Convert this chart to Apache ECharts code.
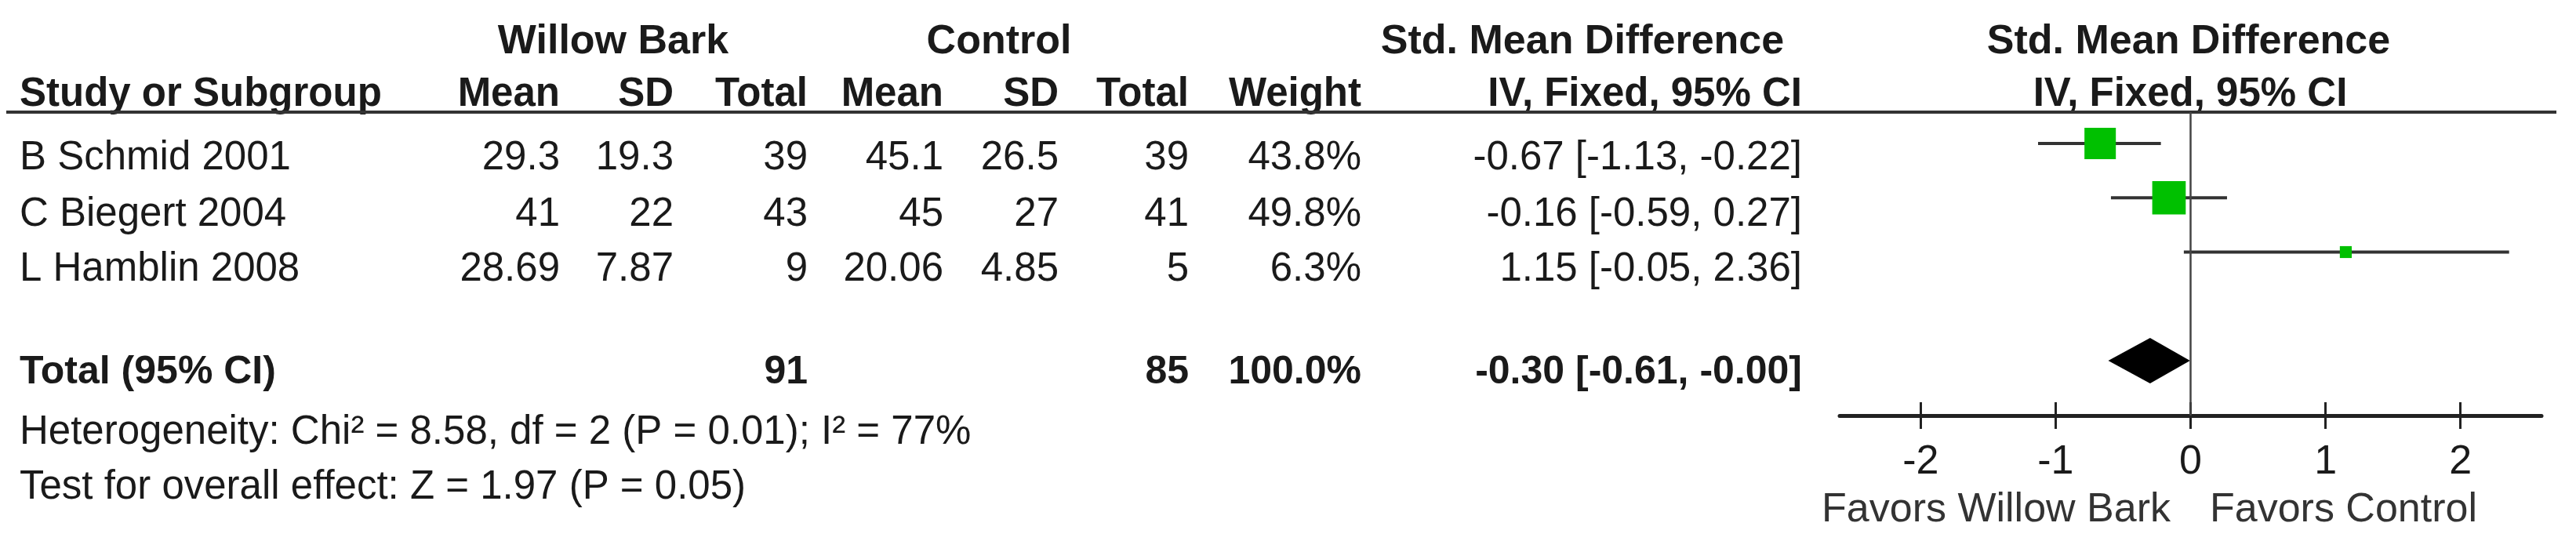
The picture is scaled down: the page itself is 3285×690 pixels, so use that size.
<!DOCTYPE html>
<html>
<head>
<meta charset="utf-8">
<script src="https://cdn.jsdelivr.net/npm/echarts@6/dist/echarts.min.js"></script>
<style>
  html, body { margin: 0; padding: 0; background: #fff; }
  #chart { width: 3285px; height: 690px; }
</style>
</head>
<body>
<div id="chart"></div>
<script>
// ── данные ────────────────────────────────────────────────────────────────
const studies = ['B Schmid 2001', 'C Biegert 2004', 'L Hamblin 2008'];
const wbMean  = [29.3, 41, 28.69];
const wbSD    = [19.3, 22, 7.87];
const wbTotal = [39, 43, 9];
const ctMean  = [45.1, 45, 20.06];
const ctSD    = [26.5, 27, 4.85];
const ctTotal = [39, 41, 5];
const weight  = [43.8, 49.8, 6.3];
const smd     = [-0.67, -0.16, 1.15];
const ciLow   = [-1.13, -0.59, -0.05];
const ciHigh  = [-0.22, 0.27, 2.36];

const totalWb     = 91;
const totalCt     = 85;
const totalWeight = 100.0;
const totalSmd    = -0.30;
const totalLow    = -0.61;
const totalHigh   = -0.004; // печатается как -0.00

const heterogeneity = 'Heterogeneity: Chi² = 8.58, df = 2 (P = 0.01); I² = 77%';
const overallEffect = 'Test for overall effect: Z = 1.97 (P = 0.05)';
const axisTicks     = [-2, -1, 0, 1, 2];
const favorsLeft    = 'Favors Willow Bark';
const favorsRight   = 'Favors Control';

// ── раскладка ─────────────────────────────────────────────────────────────
const FONT = "'Liberation Sans', Arial, sans-serif";
const INK = '#1a1a1a';
const COL = { study: 25, wbMean: 714, wbSD: 859, wbTotal: 1030, ctMean: 1203, ctSD: 1350, ctTotal: 1516, weight: 1736, ci: 2298 };
const ROW_BASE = [218, 290, 360];
const TOTAL_ROW = 4; // строка итога на оси графика

const fmt2 = v => v.toFixed(2);
const ciText = (m, lo, hi) => fmt2(m) + ' [' + fmt2(lo) + ', ' + fmt2(hi) + ']';

function txt(x, base, text, size, align, bold, color) {
  return {
    type: 'text', x: x, y: base - 0.31 * size, silent: true,
    style: {
      text: text,
      font: (bold ? 'bold ' : '') + size + 'px ' + FONT,
      fill: color || INK,
      align: align, verticalAlign: 'middle',
      textAlign: align, textVerticalAlign: 'middle'
    }
  };
}

const g = [];
// шапка
g.push(txt(782, 70, 'Willow Bark', 52, 'center', true));
g.push(txt(1274, 70, 'Control', 52, 'center', true));
g.push(txt(2018, 70, 'Std. Mean Difference', 52, 'center', true));
g.push(txt(2791, 70, 'Std. Mean Difference', 52, 'center', true));
g.push(txt(COL.study, 137, 'Study or Subgroup', 51, 'left', true));
g.push(txt(COL.wbMean, 137, 'Mean', 51, 'right', true));
g.push(txt(COL.wbSD, 137, 'SD', 51, 'right', true));
g.push(txt(COL.wbTotal, 137, 'Total', 51, 'right', true));
g.push(txt(COL.ctMean, 137, 'Mean', 51, 'right', true));
g.push(txt(COL.ctSD, 137, 'SD', 51, 'right', true));
g.push(txt(COL.ctTotal, 137, 'Total', 51, 'right', true));
g.push(txt(COL.weight, 137, 'Weight', 51, 'right', true));
g.push(txt(COL.ci, 137, 'IV, Fixed, 95% CI', 51, 'right', true));
g.push(txt(2793, 137, 'IV, Fixed, 95% CI', 51, 'center', true));
g.push({ type: 'line', silent: true, shape: { x1: 8, y1: 143, x2: 3260, y2: 143 }, style: { stroke: '#333', lineWidth: 4 } });

// строки исследований
studies.forEach(function (s, i) {
  const b = ROW_BASE[i];
  g.push(txt(COL.study, b, s, 51, 'left'));
  g.push(txt(COL.wbMean, b, String(wbMean[i]), 51, 'right'));
  g.push(txt(COL.wbSD, b, String(wbSD[i]), 51, 'right'));
  g.push(txt(COL.wbTotal, b, String(wbTotal[i]), 51, 'right'));
  g.push(txt(COL.ctMean, b, String(ctMean[i]), 51, 'right'));
  g.push(txt(COL.ctSD, b, String(ctSD[i]), 51, 'right'));
  g.push(txt(COL.ctTotal, b, String(ctTotal[i]), 51, 'right'));
  g.push(txt(COL.weight, b, weight[i].toFixed(1) + '%', 51, 'right'));
  g.push(txt(COL.ci, b, ciText(smd[i], ciLow[i], ciHigh[i]), 51, 'right'));
});

// итог
g.push(txt(COL.study, 491, 'Total (95% CI)', 50, 'left', true));
g.push(txt(COL.wbTotal, 491, String(totalWb), 50, 'right', true));
g.push(txt(COL.ctTotal, 491, String(totalCt), 50, 'right', true));
g.push(txt(COL.weight, 491, totalWeight.toFixed(1) + '%', 50, 'right', true));
g.push(txt(COL.ci, 491, ciText(totalSmd, totalLow, totalHigh), 50, 'right', true));
g.push(txt(COL.study, 568, heterogeneity, 51, 'left'));
g.push(txt(COL.study, 638, overallEffect, 51, 'left'));

// подписи под осью
g.push(txt(2768, 667, favorsLeft, 52, 'right', false, '#333'));
g.push(txt(2818, 667, favorsRight, 52, 'left', false, '#333'));

// ── график ────────────────────────────────────────────────────────────────
const chart = echarts.init(document.getElementById('chart'));

const Y_MIN = -0.5776, Y_MAX = 5.0108;

chart.setOption({
  animation: false,
  backgroundColor: '#fff',
  graphic: { elements: g },
  grid: [{ left: 2346, width: 895, top: 143, height: 387 }],
  xAxis: [
    {
      type: 'value', gridIndex: 0, min: -2.6, max: 2.6, position: 'bottom',
      axisLine: { show: true, onZero: false, lineStyle: { color: '#222', width: 5 } },
      axisTick: { show: true, customValues: axisTicks, length: 17, lineStyle: { color: '#222', width: 3 } },
      axisLabel: {
        customValues: axisTicks, margin: 34, fontSize: 52, fontFamily: FONT, color: INK,
        formatter: function (v) { return v < 0 ? '-' + Math.abs(v) : String(v); }
      },
      splitLine: { show: false }
    },
    {
      type: 'value', gridIndex: 0, min: -2.6, max: 2.6, position: 'bottom',
      axisLine: { show: false, onZero: false },
      axisTick: { show: true, inside: true, customValues: axisTicks, length: 17, lineStyle: { color: '#222', width: 3 } },
      axisLabel: { show: false },
      splitLine: { show: false }
    }
  ],
  yAxis: [{
    type: 'value', gridIndex: 0, min: Y_MIN, max: Y_MAX, inverse: true, show: false
  }],
  series: [
    {
      type: 'custom', xAxisIndex: 0, yAxisIndex: 0, silent: true,
      data: studies.map(function (s, i) { return [smd[i], i, ciLow[i], ciHigh[i], weight[i]]; }),
      renderItem: function (params, api) {
        const row = api.value(1);
        const c  = api.coord([api.value(0), row]);
        const lo = api.coord([api.value(2), row]);
        const hi = api.coord([api.value(3), row]);
        const side = 6.05 * Math.sqrt(api.value(4));
        return {
          type: 'group',
          children: [
            { type: 'line', shape: { x1: lo[0], y1: lo[1], x2: hi[0], y2: hi[1] }, style: { stroke: '#333', lineWidth: 4 } },
            { type: 'rect', shape: { x: c[0] - side / 2, y: c[1] - side / 2, width: side, height: side }, style: { fill: '#00c000' } }
          ]
        };
      },
      markLine: {
        silent: true, symbol: 'none', label: { show: false },
        lineStyle: { color: '#444', width: 2.5, type: 'solid' },
        data: [{ xAxis: 0 }]
      }
    },
    {
      type: 'custom', xAxisIndex: 0, yAxisIndex: 0, silent: true,
      data: [[totalSmd, TOTAL_ROW, totalLow, totalHigh]],
      renderItem: function (params, api) {
        const row = api.value(1);
        const c  = api.coord([api.value(0), row]);
        const lo = api.coord([api.value(2), row]);
        const hi = api.coord([api.value(3), row]);
        const h = 29;
        return {
          type: 'polygon',
          shape: { points: [[lo[0], lo[1]], [c[0], c[1] - h], [hi[0], hi[1]], [c[0], c[1] + h]] },
          style: { fill: '#000' }
        };
      }
    }
  ]
});
</script>
</body>
</html>
